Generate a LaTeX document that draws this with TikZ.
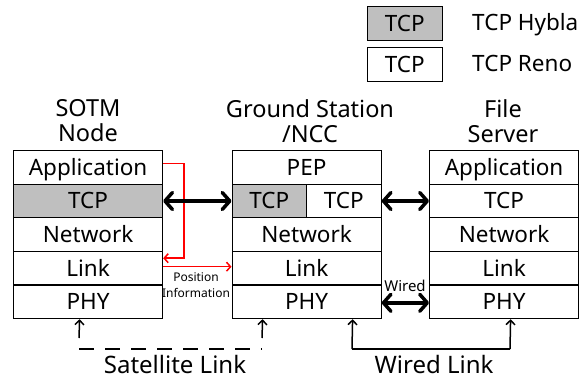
\documentclass[tikz,border=0pt]{standalone}
\usepackage{fontspec}
\setmainfont{Noto Sans}
\usetikzlibrary{arrows.meta,calc}
\definecolor{hybla}{HTML}{BFBFBF}
\begin{document}
\begin{tikzpicture}[x=1pt,y=-1pt,
  font=\fontsize{22.5}{25}\selectfont,
  row/.style={draw=black, line width=1.2pt, minimum width=149pt, minimum height=33.6pt,
    inner sep=0pt, text height=15.9pt, text depth=0pt, anchor=north west},
  half/.style={row, minimum width=74.5pt},
  gray/.style={fill=hybla},
  lbl/.style={inner sep=0pt, align=center, text height=15.9pt, text depth=0pt},
  head/.style={align=center, inner sep=0pt, font=\fontsize{23.5}{25}\selectfont},
  foot/.style={inner sep=0pt, font=\fontsize{24}{26}\selectfont, text height=17pt, text depth=0pt},
  big/.style={line width=3.5pt, {Straight Barb[length=7.5pt,width=17pt,round]}-{Straight Barb[length=7.5pt,width=17pt,round]}},
  redarr/.style={draw=red, line width=1.5pt, -{Straight Barb[length=4pt,width=9pt]}},
  uparr/.style={line width=1.5pt, -{Straight Barb[length=4.5pt,width=9pt]}},
  small/.style={font=\fontsize{12}{16}\selectfont, align=center, inner sep=0pt},
]
\useasboundingbox (0,0) rectangle (587,381);

% legend
\node[row, gray, minimum width=74.5pt] (legH) at (367,6) {TCP};
\node[row, minimum width=74.5pt] (legR) at (367,47) {TCP};
\node[lbl, anchor=west] (legHt) at (472,22.8) {TCP Hybla};
\node[lbl, anchor=west] (legRt) at (472,63.8) {TCP Reno};

% headers
\node[head] (hL) at (88,121) {SOTM\\Node};
\node[head] (hM) at (310,121) {Ground Station\\/NCC};
\node[head] (hR) at (503,121) {File\\Server};

% left stack
\node[row] (lApp) at (13,150) {Application};
\node[row, gray] (lTCP) at (13,183.6) {TCP};
\node[row] (lNet) at (13,217.2) {Network};
\node[row] (lLink) at (13,250.8) {Link};
\node[row] (lPHY) at (13,284.4) {PHY};

% middle stack
\node[row] (mPEP) at (231.5,150) {PEP};
\node[half, gray] (mTCPa) at (231.5,183.6) {TCP};
\node[half] (mTCPb) at (306,183.6) {TCP};
\node[row] (mNet) at (231.5,217.2) {Network};
\node[row] (mLink) at (231.5,250.8) {Link};
\node[row] (mPHY) at (231.5,284.4) {PHY};

% right stack
\node[row] (rApp) at (429,150) {Application};
\node[row] (rTCP) at (429,183.6) {TCP};
\node[row] (rNet) at (429,217.2) {Network};
\node[row] (rLink) at (429,250.8) {Link};
\node[row] (rPHY) at (429,284.4) {PHY};

% red position information
\draw[redarr] ([yshift=4pt]lApp.east) -- ++(21,0) |- ([yshift=10pt]lLink.east);
\draw[redarr] ([yshift=1.5pt]lLink.east) -- ([yshift=1.5pt]mLink.west);
\node[small] (pos) at (196,285) {Position\\Information};

% thick arrows
\draw[big] (lTCP.east) -- (mTCPa.west);
\draw[big] (mTCPb.east) -- (rTCP.west);
\draw[big] ([yshift=-1pt]mPHY.east) -- ([yshift=-1pt]rPHY.west);
\node[small, font=\fontsize{15}{18}\selectfont] (wired) at (405,286) {Wired};

% bottom links
\coordinate (s1) at (79,338);
\coordinate (s2) at (262,338);
\coordinate (d1) at (79,349);
\coordinate (d2) at (262,349);
\draw[uparr] (s1) -- ([xshift=-8.5pt]lPHY.south);
\draw[uparr] (s2) -- ([xshift=-44pt]mPHY.south);
\draw[line width=1.5pt, dash pattern=on 15pt off 11pt] (d1) -- (d2);
\coordinate (w1) at (352,349);
\coordinate (w2) at (510,349);
\draw[line width=1.5pt] (w1) -- (w2);
\draw[uparr] (w2) -- ([xshift=6.5pt]rPHY.south);
\draw[uparr] (w1) -- ([xshift=46pt]mPHY.south);

\node[foot] (satL) at (175,365) {Satellite Link};
\node[foot] (wirL) at (434,365) {Wired Link};
\end{tikzpicture}
\end{document}
